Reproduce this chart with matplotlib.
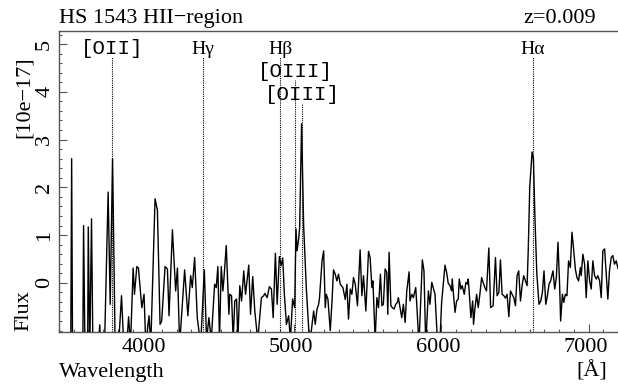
import matplotlib
matplotlib.use("Agg")
import matplotlib.pyplot as plt
import matplotlib.transforms as mtransforms
from matplotlib.ticker import MultipleLocator, FixedLocator

# ---- data ----
z = 0.009
wave = [3470, 3479, 3486, 3493, 3515, 3561, 3567, 3578, 3594, 3599, 3609, 3621, 3632,
        3668, 3677, 3686, 3709, 3713, 3734, 3748, 3764, 3782, 3805, 3825, 3843, 3861,
        3873, 3886, 3904, 3913, 3929, 3940, 3963, 3978, 3990, 4012, 4024, 4053, 4069,
        4087, 4098, 4121, 4137, 4148, 4171, 4193, 4205, 4220, 4254, 4276, 4295, 4306,
        4322, 4340, 4363, 4388, 4403, 4419, 4435, 4458, 4469, 4480, 4491, 4503, 4514,
        4521, 4537, 4555, 4561, 4573, 4584, 4595, 4607, 4616, 4629, 4641, 4656, 4668,
        4690, 4702, 4717, 4731, 4751, 4776, 4792, 4799, 4815, 4830, 4844, 4856, 4871,
        4883, 4898, 4910, 4921, 4932, 4946, 4961, 4973, 4988, 5002, 5011, 5018, 5029,
        5036, 5049, 5063, 5081, 5104, 5131, 5142, 5154, 5165, 5171, 5188, 5199, 5210,
        5217, 5228, 5244, 5256, 5266, 5278, 5289, 5300, 5312, 5330, 5346, 5357, 5368,
        5380, 5391, 5402, 5414, 5429, 5447, 5459, 5470, 5486, 5504, 5515, 5527, 5534,
        5549, 5561, 5572, 5585, 5595, 5605, 5617, 5628, 5635, 5644, 5656, 5666, 5678,
        5689, 5700, 5707, 5730, 5741, 5753, 5764, 5780, 5786, 5798, 5809, 5825, 5832,
        5847, 5870, 5881, 5893, 5911, 5922, 5934, 5944, 5956, 5974, 5990, 6001, 6024,
        6035, 6046, 6058, 6069, 6073, 6092, 6103, 6114, 6121, 6132, 6141, 6155, 6166,
        6178, 6182, 6188, 6200, 6212, 6218, 6227, 6239, 6250, 6261, 6273, 6283, 6295,
        6306, 6322, 6334, 6351, 6367, 6378, 6390, 6401, 6412, 6424, 6435, 6446, 6458,
        6469, 6480, 6492, 6503, 6514, 6525, 6537, 6548, 6559, 6571, 6582, 6590, 6600,
        6616, 6625, 6636, 6648, 6663, 6675, 6686, 6697, 6709, 6720, 6731, 6742, 6758,
        6770, 6781, 6792, 6803, 6810, 6822, 6831, 6842, 6853, 6864, 6876, 6887, 6898,
        6910, 6921, 6932, 6944, 6950, 6961, 6973, 6984, 6995, 7007, 7018, 7029, 7041,
        7052, 7063, 7075, 7086, 7097, 7109, 7120, 7131, 7142, 7154, 7165, 7176, 7188,
        7200]
flux = [-2.0, -2.0, 2.6, -2.0, -1.6, -1.8, 1.2, -1.8, -1.8, 1.17, -1.5, 1.34, -1.8,
        -1.3, -0.88, -1.5, -1.3, -0.87, 1.9, -0.45, 2.6, -1.4, -1.3, -0.27, -1.5, -1.3,
        -0.71, -1.3, 0.31, -0.24, 0.34, 0.31, -0.52, -0.24, -1.3, -0.69, -1.3, 1.76, 1.52,
        -0.87, -0.8, 0.34, 0.29, -0.69, 1.11, -0.17, 0.31, -1.3, 0.27, -0.69, 0.15, -0.1,
        0.53, -0.73, -1.3, 0.27, -1.2, -0.73, -1.2, -0.03, -0.1, 0.34, -1.2, 0.34, -0.17,
        0.08, 0.78, -0.66, -0.24, -0.27, -1.2, -0.38, -0.34, -1.2, -0.06, -0.38, 0.25, -0.24,
        0.37, -0.66, 0.13, -0.59, -1.2, -0.31, -0.27, -0.22, -0.31, -0.08, -0.13, -0.73, 0.62,
        -0.45, 0.55, 0.36, 0.52, -0.24, -0.87, -0.69, -1.2, -0.34, -0.52, 1.13, 0.67, 0.92,
        1.16, 3.33, 1.2, -0.1, -1.3, -0.59, -0.87, -0.55, -0.45, -0.31, 0.46, 0.67, -0.52,
        -0.24, -0.34, -1.0, -0.38, 0.27, 0.18, 0.04, 0.18, -0.03, -0.1, -0.35, -0.03, -0.76,
        -0.13, -0.24, 0.11, -0.03, -0.48, 0.69, -0.27, 0.15, -0.59, 0.66, 0.53, -0.1, 0.04,
        -1.2, -0.31, -0.52, 0.18, -0.48, -0.45, 0.29, 0.22, -0.66, 0.64, -0.48, -0.52, -0.55,
        -0.45, -0.41, -0.31, -0.73, -0.45, -0.83, -0.17, 0.23, -0.38, -0.24, -0.31, -0.1, -0.45,
        -1.3, 0.48, 0.25, -1.3, -0.17, -0.45, 0.01, -0.1, -0.24, -1.3, -1.2, -0.41, 0.37,
        0.22, -0.01, -0.06, -0.17, 0.08, -0.62, -0.38, -0.34, 0.08, -0.13, -0.06, -0.24, 0.01,
        -0.03, 0.08, -0.17, -0.73, -0.38, -0.87, -0.55, -0.24, -0.52, -0.24, 0.11, 0.01, -0.1,
        -0.17, 0.73, -0.52, -0.48, 0.53, -0.27, -0.2, 0.48, -0.24, -0.27, -0.32, -0.24, -0.71,
        -0.17, -0.24, -0.31, -0.48, 0.15, 0.25, -0.38, -0.06, 0.15, 0.04, -0.06, 0.7, 2.0,
        2.74, 2.6, 1.3, 0.2, -0.45, -0.38, -0.2, 0.25, -0.45, -0.27, -0.03, 0.04, 0.25,
        -0.13, 0.11, 0.85, -0.03, -0.8, -0.24, -0.41, -0.24, -0.27, 0.46, 0.32, 1.06, 0.71,
        0.29, 0.11, 0.04, 0.32, 0.15, 0.6, 0.39, -0.31, 0.46, 0.04, -0.13, 0.46, 0.15,
        0.08, 0.15, 0.04, -0.31, 0.67, 0.71, 0.18, -0.34, 0.25, 0.53, 0.57, 0.39, 0.46,
        0.3]

line_names = ["[OII]", "H\u03b3", "H\u03b2", "[OIII]", "[OIII]", "H\u03b1"]
line_rest = [3727, 4340, 4861, 4959, 5007, 6563]
line_mono = [True, False, False, True, True, False]
# label baseline and top of the dotted marker, in flux units
label_y = [4.80, 4.80, 4.80, 4.31, 3.82, 4.80]
marker_top = [4.73, 4.73, 4.73, 4.24, 3.76, 4.73]
yticks = [0, 1, 2, 3, 4, 5]

serif = ["Liberation Serif", "DejaVu Serif"]
mono = ["Liberation Mono", "DejaVu Sans Mono"]
plt.rcParams["font.family"] = serif

fig = plt.figure(figsize=(6.18, 3.88), dpi=100)
W, H = 618.0, 388.0
ax = fig.add_axes([59 / W, 1 - 332 / H, 1 - 59 / W, (332 - 30.7) / H])

ax.plot(wave, flux, color="black", lw=1.0, zorder=3)

for name, rest, is_mono, ly, top in zip(line_names, line_rest, line_mono, label_y, marker_top):
    w_obs = rest * (1 + z)
    ax.plot([w_obs, w_obs], [-1.03, top], color="black", lw=0.8,
            linestyle=(0, (1, 1)), zorder=2)
    ax.text(w_obs, ly, name, ha="center", va="baseline",
            family=mono if is_mono else serif, fontsize=15 if is_mono else 14)

ax.set_xlim(3400, 7200)
ax.set_ylim(-1.03, 5.28)
ax.xaxis.set_major_locator(MultipleLocator(1000))
ax.xaxis.set_minor_locator(MultipleLocator(100))
ax.yaxis.set_major_locator(FixedLocator(yticks))
ax.yaxis.set_minor_locator(MultipleLocator(0.2))

spine_col = "#555555"
for s in ["left", "bottom", "top"]:
    ax.spines[s].set_color(spine_col)
    ax.spines[s].set_linewidth(1.0)
ax.spines["right"].set_visible(False)

ax.tick_params(which="both", direction="in", color=spine_col, width=0.8,
               top=False, right=False, labelsize=16)
ax.tick_params(which="major", length=5.5)
ax.tick_params(which="minor", length=2.5)
ax.tick_params(axis="x", pad=4)
ax.tick_params(axis="y", pad=3.5, labelrotation=90)
for lbl in ax.get_yticklabels():
    lbl.set_va("center")
shift = mtransforms.ScaledTranslation(-3 / 100, 0, fig.dpi_scale_trans)
for lbl in ax.get_xticklabels():
    lbl.set_transform(lbl.get_transform() + shift)

fig.text(59 / W, 1 - 22.7 / H, "HS 1543 HII\u2212region", ha="left", va="baseline", fontsize=16)
fig.text(596 / W, 1 - 22.7 / H, "z=0.009", ha="right", va="baseline", fontsize=16)
fig.text(59 / W, 1 - 377 / H, "Wavelength", ha="left", va="baseline", fontsize=16)
fig.text(607 / W, 1 - 377 / H, "[\u00c5]", ha="right", va="baseline", fontsize=16)
fig.text(24 / W, 1 - 331 / H, "Flux", rotation=90, ha="center", va="bottom", fontsize=16)
fig.text(24 / W, 1 - 56 / H, "[10e\u221217]", rotation=90, ha="center", va="top", fontsize=16)

fig.savefig("out.png", dpi=100)
